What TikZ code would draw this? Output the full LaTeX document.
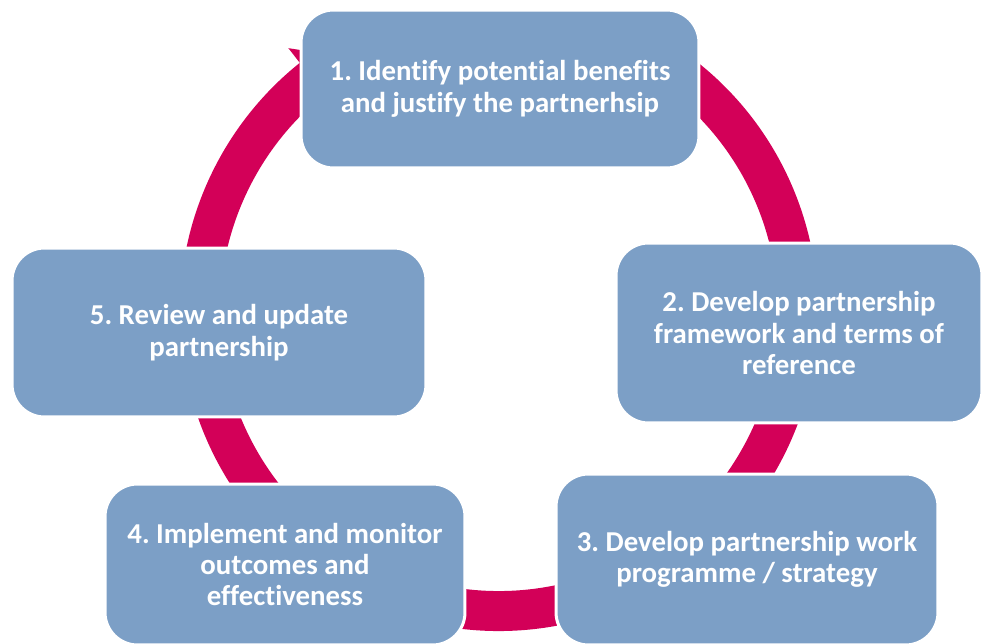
\documentclass[tikz,border=0pt]{standalone}
\usepackage{fontspec}
\setmainfont{Carlito}[Ligatures=NoCommon]
\usepackage{xcolor}
\usepackage{tikz}
\usetikzlibrary{arrows.meta,bending}
\definecolor{stageblue}{HTML}{7C9FC6}
\definecolor{cyclered}{HTML}{D30058}
\frenchspacing

\begin{document}
\begin{tikzpicture}[
    x=0.02cm, y=0.02cm,
    stage/.style={draw=white, line width=0.6mm, rounded corners=6.5mm, fill=stageblue, text=white, align=center, inner sep=0pt, font=\bfseries\fontsize{16.4}{17.9}\selectfont},
    ring/.style={draw=cyclered, line width=8mm, -{Triangle[width=15.2mm, length=7mm, bend]}}
]
    \useasboundingbox (0,0) rectangle (983,643);
    \coordinate (hub) at (499,331);
    \draw[ring] (hub) ++(60:299) arc[start angle=60, end angle=-238, radius=299];

    \node[stage, minimum width=79.6mm, minimum height=31.6mm] (ident) at (500,554) {1. Identify potential benefits\\and justify the partnerhsip};
    \node[stage, minimum width=73.2mm, minimum height=36mm] (frame) at (799,310) {2. Develop partnership\\framework and terms of\\reference};
    \node[stage, minimum width=76.4mm, minimum height=34.2mm] (work) at (747,83.5) {3. Develop partnership work\\programme / strategy};
    \node[stage, minimum width=72mm, minimum height=32.2mm] (monitor) at (285,78.5) {4. Implement and monitor\\outcomes and\\effectiveness};
    \node[stage, minimum width=82.8mm, minimum height=33.8mm] (review) at (219,310.5) {5. Review and update\\partnership};
\end{tikzpicture}
\end{document}
